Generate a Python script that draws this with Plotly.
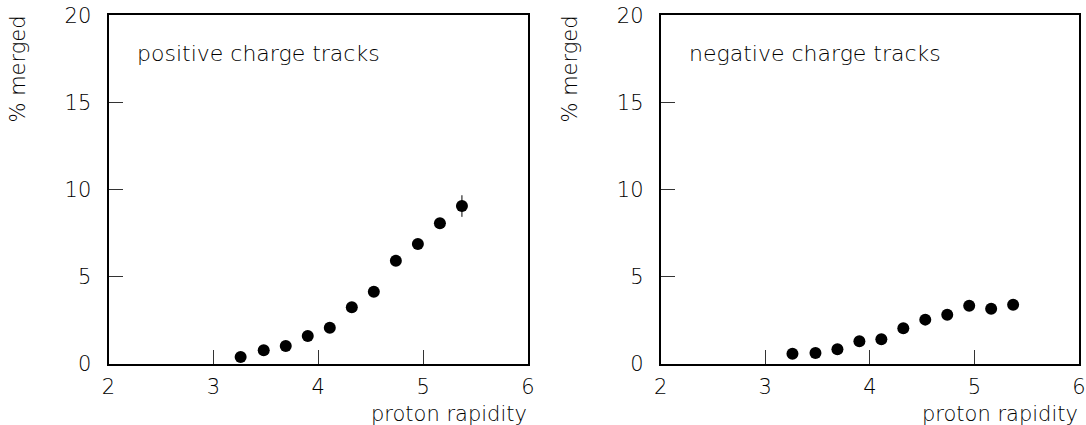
import plotly.graph_objects as go

# Fraction of merged tracks versus proton rapidity
rapidity_pos = [3.26, 3.48, 3.69, 3.90, 4.11, 4.32, 4.53, 4.74, 4.95, 5.16, 5.37]
merged_pos = [0.39, 0.77, 1.02, 1.59, 2.07, 3.24, 4.13, 5.91, 6.87, 8.06, 9.05]
err_pos = [0.08, 0.10, 0.12, 0.14, 0.16, 0.18, 0.20, 0.24, 0.27, 0.30, 0.62]

rapidity_neg = [3.26, 3.48, 3.69, 3.90, 4.11, 4.32, 4.53, 4.74, 4.95, 5.16, 5.37]
merged_neg = [0.57, 0.61, 0.83, 1.29, 1.40, 2.03, 2.53, 2.81, 3.33, 3.16, 3.39]
err_neg = [0.10, 0.10, 0.12, 0.14, 0.14, 0.16, 0.18, 0.20, 0.22, 0.24, 0.26]

x_ticks = [2, 3, 4, 5, 6]
y_ticks = [0, 5, 10, 15, 20]

FONT = "DejaVu Sans"
INK = "#000000"
WEIGHT = 200

fig = go.Figure()

panels = [
    (rapidity_pos, merged_pos, err_pos, "x", "y"),
    (rapidity_neg, merged_neg, err_neg, "x2", "y2"),
]

for xs, ys, es, xa, ya in panels:
    fig.add_trace(go.Scatter(
        x=xs, y=ys, xaxis=xa, yaxis=ya, mode="markers",
        marker=dict(color="black", size=12, symbol="circle"),
        error_y=dict(type="data", array=es, visible=True, color="black",
                     thickness=1, width=0),
        showlegend=False, hoverinfo="x+y",
    ))

axis_common = dict(
    showgrid=False, zeroline=False, showline=True, linewidth=2,
    linecolor="black", mirror=True, ticks="inside", ticklen=14,
    tickwidth=1, tickcolor="#333", automargin=False,
    tickfont=dict(family=FONT, size=21, color=INK, weight=WEIGHT),
)

ydom = [1 - 363.7 / 425, 1 - 15.3 / 425]
fig.update_layout(
    width=1086, height=425,
    margin=dict(l=0, r=0, t=0, b=0),
    paper_bgcolor="white", plot_bgcolor="white",
    xaxis=dict(domain=[108.5 / 1086, 528 / 1086], range=[2, 6],
               tickvals=x_ticks, anchor="y", ticklabelstandoff=3,
               **axis_common),
    yaxis=dict(domain=ydom, range=[0, 20], tickvals=y_ticks,
               anchor="x", ticklabelstandoff=11, **axis_common),
    xaxis2=dict(domain=[660.7 / 1086, 1079 / 1086], range=[2, 6],
                tickvals=x_ticks, anchor="y2", ticklabelstandoff=3,
                **axis_common),
    yaxis2=dict(domain=ydom, range=[0, 20], tickvals=y_ticks,
                anchor="x2", ticklabelstandoff=11, **axis_common),
)

title_font = dict(family=FONT, size=21, color=INK, weight=WEIGHT)
caption_font = dict(family=FONT, size=22, color=INK, weight=WEIGHT)

for xa, ya, label, ytitle_x in [("x", "y", "positive charge tracks", 17),
                                ("x2", "y2", "negative charge tracks", 569)]:
    dom = fig.layout[xa.replace("x", "xaxis")].domain
    # panel caption
    fig.add_annotation(
        text=label, xref=f"{xa} domain", yref=f"{ya} domain",
        x=0.063, y=0.89, xanchor="left", yanchor="middle",
        showarrow=False, font=caption_font,
    )
    # x-axis title, right-aligned under the frame
    fig.add_annotation(
        text="proton rapidity", xref="paper", yref="paper",
        x=dom[1] + 1 / 1086, y=1 - 414 / 425, xanchor="right",
        yanchor="middle", showarrow=False, font=title_font,
    )
    # y-axis title, rotated, near the top of the axis
    fig.add_annotation(
        text="% merged", xref="paper", yref="paper",
        x=ytitle_x / 1086, y=1 - 14 / 425, xanchor="center", yanchor="top",
        textangle=-90, showarrow=False, font=title_font,
    )

fig.write_html("out.html")
